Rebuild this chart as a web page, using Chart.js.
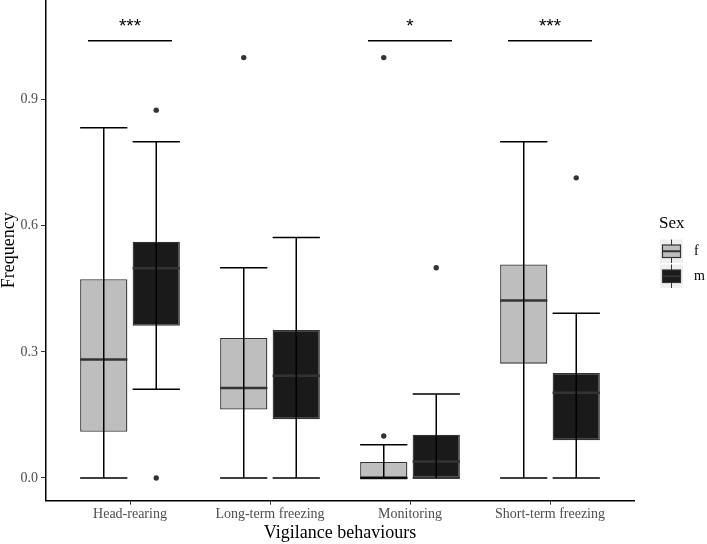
<!DOCTYPE html>
<html>
<head>
<meta charset="utf-8">
<script src="https://cdn.jsdelivr.net/npm/chart.js@4.4.1/dist/chart.umd.min.js"></script>
<style>
  html, body { margin: 0; padding: 0; background: #fff; }
  #wrap { width: 707px; height: 544px; }
</style>
</head>
<body>
<div id="wrap"><canvas id="chart" width="707" height="544"></canvas></div>
<script>
// Categories and groups
const categories = ['Head-rearing', 'Long-term freezing', 'Monitoring', 'Short-term freezing'];
const sexLabels = ['f', 'm'];
const yTicks = [0, 0.3, 0.6, 0.9];

// Box statistics, females
const fMin = [0, 0, 0, 0];
const fQ1 = [0.110, 0.163, 0, 0.272];
const fMedian = [0.282, 0.214, 0, 0.422];
const fQ3 = [0.473, 0.333, 0.038, 0.508];
const fMax = [0.833, 0.500, 0.079, 0.800];
const fOutliers = [[], [1.0], [0.1, 1.0], []];

// Box statistics, males
const mMin = [0.211, 0, 0, 0];
const mQ1 = [0.362, 0.140, 0, 0.090];
const mMedian = [0.499, 0.243, 0.039, 0.203];
const mQ3 = [0.562, 0.352, 0.103, 0.250];
const mMax = [0.800, 0.572, 0.200, 0.392];
const mOutliers = [[0.875, 0], [], [0.5], [0.714]];

// Significance marks
const sigLabels = ['***', '', '*', '***'];
const sigLevel = 1.04;

const serif = "'Liberation Serif', 'Times New Roman', serif";
const fills = ['#BEBEBE', '#1A1A1A'];

const stats = [
  { min: fMin, q1: fQ1, med: fMedian, q3: fQ3, max: fMax, out: fOutliers },
  { min: mMin, q1: mQ1, med: mMedian, q3: mQ3, max: mMax, out: mOutliers }
];

// whiskers, medians, outliers, significance bars and legend
const boxPlugin = {
  id: 'boxExtras',
  afterDatasetsDraw(chart) {
    const ctx = chart.ctx;
    const x = chart.scales.x, y = chart.scales.y;
    ctx.save();
    stats.forEach((s, d) => {
      const meta = chart.getDatasetMeta(d);
      meta.data.forEach((bar, i) => {
        const cx = bar.x, half = bar.width / 2;
        // median
        const ym = y.getPixelForValue(s.med[i]);
        ctx.strokeStyle = '#333333';
        ctx.lineWidth = 2.5;
        ctx.beginPath();
        ctx.moveTo(cx - half, ym);
        ctx.lineTo(cx + half, ym);
        ctx.stroke();
        // error bar
        const y0 = y.getPixelForValue(s.min[i]);
        const y1 = y.getPixelForValue(s.max[i]);
        ctx.strokeStyle = '#000';
        ctx.lineWidth = 1.5;
        ctx.beginPath();
        ctx.moveTo(cx, y0); ctx.lineTo(cx, y1);
        ctx.moveTo(cx - half, y0); ctx.lineTo(cx + half, y0);
        ctx.moveTo(cx - half, y1); ctx.lineTo(cx + half, y1);
        ctx.stroke();
        // outliers
        ctx.fillStyle = '#333333';
        s.out[i].forEach(v => {
          ctx.beginPath();
          ctx.arc(cx, y.getPixelForValue(v), 2.7, 0, Math.PI * 2);
          ctx.fill();
        });
      });
    });

    // significance
    const ys = y.getPixelForValue(sigLevel);
    ctx.font = "19px 'Liberation Sans', Arial, sans-serif";
    ctx.textAlign = 'center';
    ctx.textBaseline = 'alphabetic';
    sigLabels.forEach((lab, i) => {
      if (!lab) return;
      const xa = x.getPixelForValue(i - 0.3), xb = x.getPixelForValue(i + 0.3);
      ctx.strokeStyle = '#000';
      ctx.lineWidth = 1.5;
      ctx.beginPath();
      ctx.moveTo(xa, ys); ctx.lineTo(xb, ys);
      ctx.stroke();
      ctx.fillStyle = '#000';
      ctx.fillText(lab, x.getPixelForValue(i), ys - 9);
    });

    // legend
    const lx = chart.chartArea.right + 26;
    ctx.textAlign = 'left';
    ctx.fillStyle = '#000';
    ctx.font = '17px ' + serif;
    ctx.fillText('Sex', lx - 1, 227.5);
    sexLabels.forEach((lab, k) => {
      const ky = 239.5 + k * 25;
      ctx.fillStyle = '#EFEFEF';
      ctx.fillRect(lx, ky, 23, 23.5);
      const mid = lx + 11.5;
      ctx.strokeStyle = '#333333';
      ctx.lineWidth = 1;
      ctx.beginPath();
      ctx.moveTo(mid, ky); ctx.lineTo(mid, ky + 23.5);
      ctx.stroke();
      ctx.fillStyle = fills[k];
      ctx.fillRect(lx + 2.5, ky + 5.5, 18, 12.5);
      ctx.lineWidth = 1.2;
      ctx.strokeRect(lx + 2.5, ky + 5.5, 18, 12.5);
      ctx.lineWidth = 2;
      ctx.beginPath();
      ctx.moveTo(lx + 2.5, ky + 11.75); ctx.lineTo(lx + 20.5, ky + 11.75);
      ctx.stroke();
      ctx.fillStyle = '#000';
      ctx.font = '14px ' + serif;
      ctx.textBaseline = 'middle';
      ctx.fillText(lab, lx + 34, ky + 12);
      ctx.textBaseline = 'alphabetic';
    });
    ctx.restore();
  }
};

const datasets = stats.map((s, d) => ({
  label: sexLabels[d],
  data: categories.map((c, i) => ({ x: i, y: [s.q1[i], s.q3[i]] })),
  backgroundColor: fills[d],
  borderColor: '#333333',
  borderWidth: 1.3,
  borderSkipped: false,
  categoryPercentage: 0.75,
  barPercentage: 0.9
}));

const config = {
  type: 'bar',
  data: { datasets: datasets },
  options: {
    responsive: false,
    animation: false,
    layout: { padding: { left: 0, right: 73, top: 0, bottom: 0 } },
    plugins: { legend: { display: false }, tooltip: { enabled: false } },
    scales: {
      x: {
        type: 'linear',
        min: -0.6,
        max: 3.6,
        offset: false,
        grid: { drawOnChartArea: false, offset: false, tickLength: 4, color: '#333333' },
        border: { display: true, color: '#000', width: 1.5 },
        ticks: {
          font: { family: serif, size: 14 },
          color: '#4D4D4D',
          padding: 1,
          callback: v => categories[v]
        },
        title: {
          display: true,
          text: 'Vigilance behaviours',
          font: { family: serif, size: 18 },
          color: '#000',
          padding: 0
        },
        afterBuildTicks: s => { s.ticks = categories.map((c, i) => ({ value: i })); },
        afterFit: s => { s.height = 43.3; s.paddingLeft = 0; s.paddingRight = 0; }
      },
      y: {
        min: -0.054,
        max: 1.137,
        grid: { drawOnChartArea: false, tickLength: 5, color: '#333333' },
        border: { display: true, color: '#000', width: 1.5 },
        ticks: {
          font: { family: serif, size: 14 },
          color: '#4D4D4D',
          padding: 3,
          callback: v => v.toFixed(1)
        },
        title: {
          display: true,
          text: 'Frequency',
          font: { family: serif, size: 18, lineHeight: 1 },
          color: '#000',
          padding: 0
        },
        afterBuildTicks: s => { s.ticks = yTicks.map(v => ({ value: v })); },
        afterFit: s => { s.width = 46; s.paddingTop = 0; s.paddingBottom = 0; }
      }
    }
  },
  plugins: [boxPlugin]
};

const chartElement = document.getElementById('chart');
const myChart = new Chart(chartElement, config);
</script>
</body>
</html>
